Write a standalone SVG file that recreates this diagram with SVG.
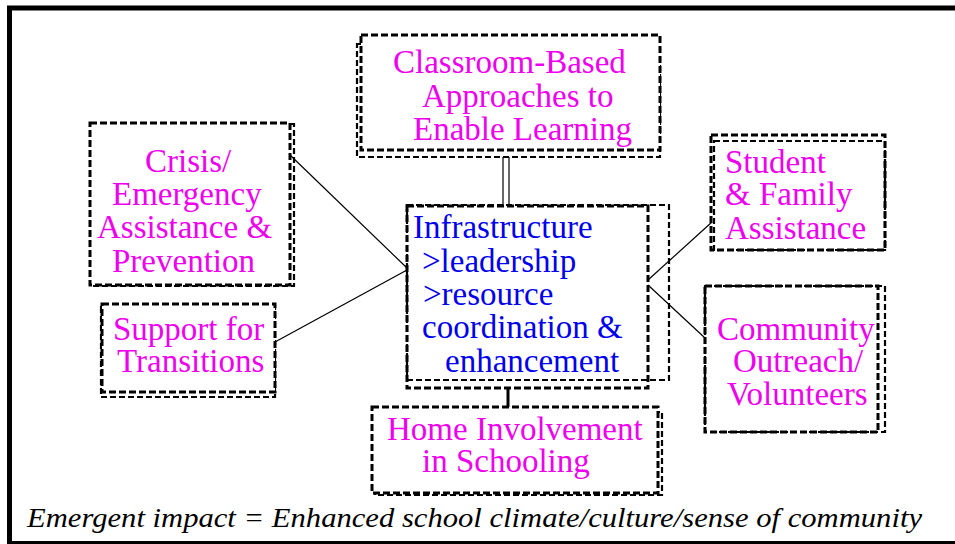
<svg xmlns="http://www.w3.org/2000/svg" width="955" height="544" viewBox="0 0 955 544">
<rect width="955" height="544" fill="#fff"/>
<path d="M9.5 544 V8 H955" fill="none" stroke="#000" stroke-width="5"/>
<path d="M7 542.5 H955" fill="none" stroke="#000" stroke-width="3"/>
<g id="connectors" stroke="#000" stroke-width="1.2" fill="none">
<line x1="503" y1="157" x2="503" y2="206"/>
<line x1="509" y1="157" x2="509" y2="206"/>
<line x1="508" y1="388" x2="508" y2="408" stroke-width="3"/>
<line x1="290" y1="155" x2="407" y2="268"/>
<line x1="275" y1="342" x2="407" y2="270"/>
<line x1="648" y1="280" x2="712" y2="222"/>
<line x1="648" y1="285" x2="705" y2="338"/>
</g>
<g font-family="Liberation Serif" font-size="33" fill="#ee00ee">
<g id="classroom">
<rect x="357" y="44" width="303" height="113" fill="none" stroke="#000" stroke-width="2.2" stroke-dasharray="6 3"/>
<rect x="361" y="35" width="299" height="115" fill="#fff" stroke="#000" stroke-width="3" stroke-dasharray="7 3"/>
<text x="393" y="73">Classroom-Based</text>
<text x="422" y="107">Approaches to</text>
<text x="413" y="140">Enable Learning</text>
</g>
<g id="crisis">
<rect x="93" y="124" width="201" height="162" fill="none" stroke="#000" stroke-width="2.2" stroke-dasharray="6 3"/>
<rect x="90" y="123" width="200" height="162" fill="#fff" stroke="#000" stroke-width="3" stroke-dasharray="7 3"/>
<text x="145" y="172">Crisis/</text>
<text x="112" y="205">Emergency</text>
<text x="97" y="238">Assistance &amp;</text>
<text x="112" y="272">Prevention</text>
</g>
<g id="infrastructure">
<rect x="407" y="205" width="262" height="175" fill="none" stroke="#000" stroke-width="2.2" stroke-dasharray="6 3"/>
<rect x="407" y="206" width="241" height="182" fill="none" stroke="#000" stroke-width="3" stroke-dasharray="7 3"/>
<g fill="#0000ee">
<text x="413" y="238">Infrastructure</text>
<text x="422" y="272">&gt;leadership</text>
<text x="423" y="305">&gt;resource</text>
<text x="422" y="338">coordination &amp;</text>
<text x="445" y="372">enhancement</text>
</g>
</g>
<g id="home">
<rect x="375" y="412" width="287" height="83" fill="none" stroke="#000" stroke-width="2.2" stroke-dasharray="6 3"/>
<rect x="372" y="407" width="286" height="86" fill="#fff" stroke="#000" stroke-width="3" stroke-dasharray="7 3"/>
<text x="387" y="440">Home Involvement</text>
<text x="422" y="472">in Schooling</text>
</g>
<g id="student">
<rect x="714" y="141" width="171" height="109" fill="none" stroke="#000" stroke-width="2.2" stroke-dasharray="6 3"/>
<rect x="711" y="135" width="174" height="115" fill="none" stroke="#000" stroke-width="3" stroke-dasharray="7 3"/>
<text x="725" y="173">Student</text>
<text x="725" y="205">&amp; Family</text>
<text x="725" y="239">Assistance</text>
</g>
<g id="community">
<rect x="705" y="286" width="180" height="146" fill="none" stroke="#000" stroke-width="2.2" stroke-dasharray="6 3"/>
<rect x="705" y="286" width="173" height="146" fill="none" stroke="#000" stroke-width="3" stroke-dasharray="7 3"/>
<text x="717" y="340">Community</text>
<text x="733" y="372">Outreach/</text>
<text x="727" y="405">Volunteers</text>
</g>
<g id="support">
<rect x="101" y="307" width="174" height="90" fill="none" stroke="#000" stroke-width="2.2" stroke-dasharray="6 3"/>
<rect x="102" y="304" width="173" height="88" fill="#fff" stroke="#000" stroke-width="3" stroke-dasharray="7 3"/>
<text x="113" y="340">Support for</text>
<text x="117" y="372">Transitions</text>
</g>
</g>
<text x="27" y="527" textLength="895" lengthAdjust="spacingAndGlyphs" font-family="Liberation Serif" font-style="italic" font-size="27" fill="#000">Emergent impact = Enhanced school climate/culture/sense of community</text>
</svg>
